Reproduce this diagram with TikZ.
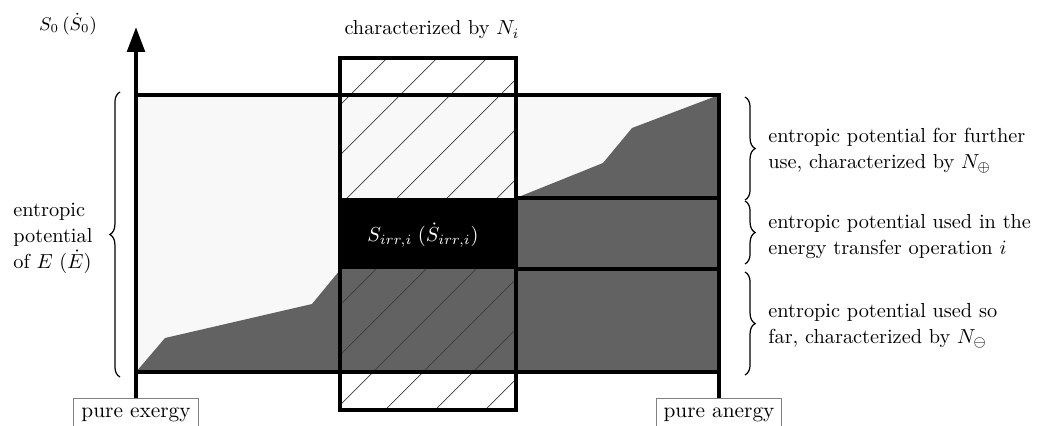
\documentclass[tikz,border=0pt]{standalone}
\usepackage{xcolor}
\usepackage{amsmath}
\usepackage{tikz}
\usetikzlibrary{arrows.meta, positioning, calc, decorations.pathreplacing}
\definecolor{usedgray}{RGB}{98,98,98}
\definecolor{freegray}{RGB}{248,248,248}
\definecolor{tagframe}{RGB}{130,130,130}
\definecolor{hatchgray}{RGB}{60,60,60}
\tikzset{
  thickline/.style={line width=2pt, color=black},
  hatchline/.style={line width=0.35pt, color=hatchgray},
  lbl/.style={inner sep=0pt, align=left, anchor=west,
    font=\fontsize{10}{12.8}\selectfont},
  tagbox/.style={rectangle, draw=tagframe, line width=0.6pt,
    minimum width=2.16cm, inner xsep=3pt, inner ysep=4.5pt, anchor=north,
    font=\fontsize{10.5}{12}\selectfont},
  brc/.style={decorate, decoration={brace, amplitude=5pt}, line width=0.6pt},
  axisarrow/.style={-{Triangle[length=0.43cm, width=0.3cm]}, thickline}
}

\begin{document}
\begin{tikzpicture}[x=0.0173cm, y=-0.0173cm]
  \useasboundingbox (0,0) rectangle (1049,425);
  % Light and dark fields
  \fill[freegray] (136,95) rectangle (719,372);
  \fill[usedgray] (136,372) -- (165,338) -- (312,304) -- (340,270) -- (516,198)
    -- (603,163) -- (632,128) -- (719,95) -- (719,372) -- cycle;
  % Hatched column
  \begin{scope}
    \clip (340,58) rectangle (516,410);
    \foreach \c in {395,445,...,945}
      \draw[hatchline] (\c-410,410) -- (\c-58,58);
  \end{scope}
  \fill[black] (340,198) rectangle (516,269);
  \node[text=white] (sirr) at (423,235) {$S_{irr,i}\;(\dot{S}_{irr,i})$};

  % Frames
  \draw[thickline] (136,95) rectangle (719,372);
  \draw[thickline] (340,58) rectangle (516,410);
  \draw[thickline] (516,198) -- (719,198);
  \draw[thickline] (516,269) -- (719,269);

  % Axis and end tags
  \node[tagbox] (exergy) at (136,398) {pure exergy};
  \node[tagbox] (anergy) at (719,398) {pure anergy};
  \coordinate (axtop) at (136,27);
  \draw[axisarrow] (exergy.north) -- (axtop);
  \draw[thickline] (anergy.north) -- (719,95);
  \node[font=\small] (yaxis) at (68,24) {$S_0\,(\dot{S}_0)$};
  \node (colhead) at (432,30) {characterized by $N_i$};

  % Left brace
  \draw[brc] (120,377) -- (120,92);
  \node[lbl] (whole) at (13,238) {entropic\\potential\\of $E$ $(\dot{E})$};

  % Right braces
  \draw[brc] (745,97) -- (745,200);
  \draw[brc] (745,201) -- (745,264);
  \draw[brc] (745,272) -- (745,375);
  \node[lbl] (further) at (768,151)
    {entropic potential for further\\use, characterized by $N_\oplus$};
  \node[lbl] (current) at (768,237)
    {entropic potential used in the\\energy transfer operation $i$};
  \node[lbl] (sofar) at (768,326)
    {entropic potential used so\\far, characterized by $N_\ominus$};
\end{tikzpicture}
\end{document}
